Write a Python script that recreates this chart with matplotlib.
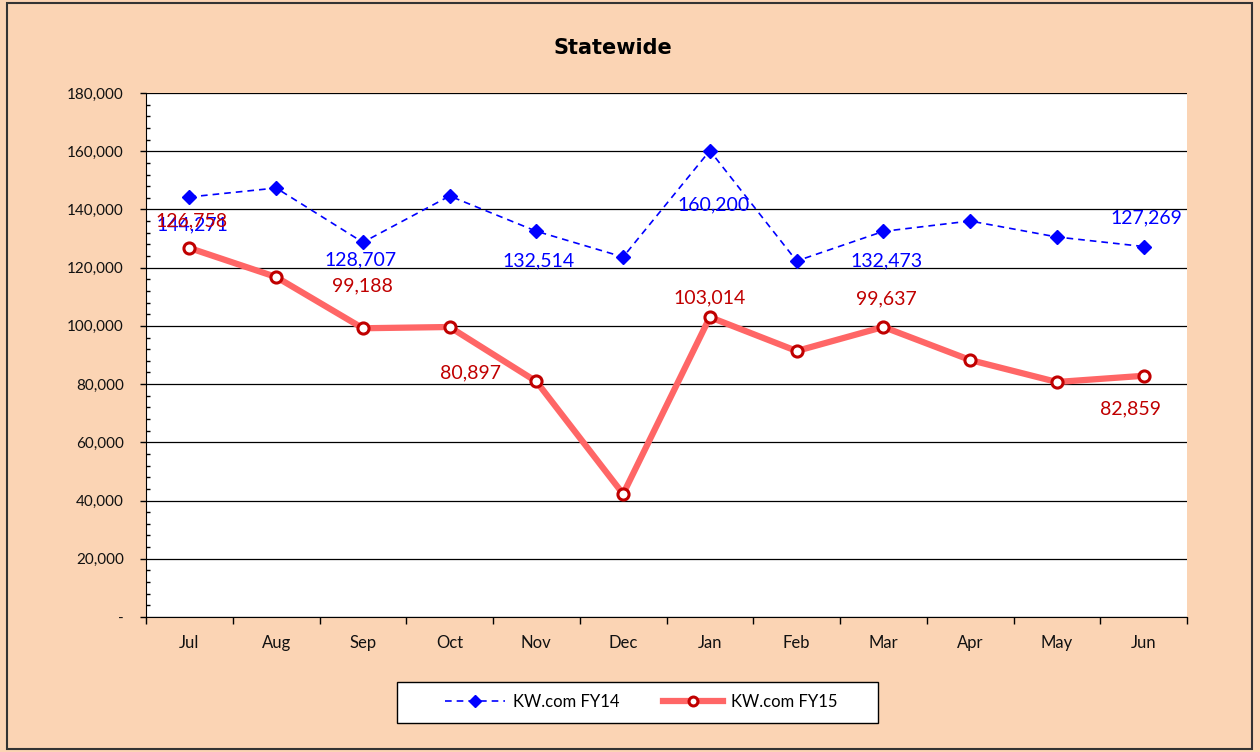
import matplotlib.pyplot as plt
from matplotlib.patches import Rectangle
from matplotlib.ticker import FuncFormatter, MultipleLocator

# Data
months = ["Jul", "Aug", "Sep", "Oct", "Nov", "Dec", "Jan", "Feb", "Mar", "Apr", "May", "Jun"]
fy14 = [144271, 147366, 128707, 144617, 132514, 123664, 160200, 122290, 132473, 136030, 130534, 127269]
fy15 = [126758, 116794, 99188, 99618, 80897, 42252, 103014, 91374, 99637, 88282, 80725, 82859]

# Which points get a value label, and label offset in pixels (dx, dy; dy positive = down)
fy14_labels = {0: (3, 28), 2: (-2, 18), 4: (2, 30), 6: (4, 54), 8: (3, 30), 11: (3, -29)}
fy15_labels = {0: (2, -27), 2: (0, -42), 4: (-66, -9), 6: (0, -19), 8: (3, -28), 11: (-13, 33)}

peach = "#FBD4B4"
label_font = "Lato"

fig = plt.figure(figsize=(12.6, 7.52), dpi=100)
fig.patch.set_facecolor(peach)

# outer chart border
fig.patches.append(Rectangle((7 / 1260, 3 / 752), 1245 / 1260, 746 / 752,
                             transform=fig.transFigure, fill=False,
                             edgecolor="#333333", linewidth=1.5))

ax = fig.add_axes([146 / 1260, 1 - 617 / 752, 1041 / 1260, 524 / 752])
ax.set_facecolor("white")

x = list(range(len(months)))
ax.plot(x, fy14, color="#0000FF", linestyle=(0, (4, 3)), linewidth=1.2,
        marker="D", markersize=7.5, markerfacecolor="#0000FF",
        markeredgecolor="#0000FF", label="KW.com FY14", zorder=3)
ax.plot(x, fy15, color="#FF6666", linewidth=4.5, marker="o", markersize=8,
        markerfacecolor="white", markeredgecolor="#C00000", markeredgewidth=2.2,
        label="KW.com FY15", zorder=4)

for i, (dx, dy) in fy14_labels.items():
    ax.annotate(f"{fy14[i]:,}", (x[i], fy14[i]), xytext=(dx * 0.72, -dy * 0.72),
                textcoords="offset points", ha="center", va="center",
                color="#0000FF", fontsize=14, family=label_font, zorder=5)
for i, (dx, dy) in fy15_labels.items():
    ax.annotate(f"{fy15[i]:,}", (x[i], fy15[i]), xytext=(dx * 0.72, -dy * 0.72),
                textcoords="offset points", ha="center", va="center",
                color="#C00000", fontsize=14, family=label_font, zorder=5)

ax.set_xlim(-0.5, 11.5)
ax.set_ylim(0, 180000)

# y axis
ax.yaxis.set_major_locator(MultipleLocator(20000))
ax.yaxis.set_minor_locator(MultipleLocator(4000))
ax.yaxis.set_major_formatter(FuncFormatter(lambda v, p: "-" if v == 0 else f"{int(v):,}"))
ax.tick_params(axis="y", which="major", direction="out", length=4, width=1,
               labelsize=11, pad=12)
ax.tick_params(axis="y", which="minor", direction="in", length=3, width=1)
ax.grid(axis="y", which="major", color="black", linewidth=0.9, zorder=0)

# x axis: ticks on category edges, labels in the middle
ax.set_xticks([i - 0.5 for i in range(13)])
ax.set_xticklabels([])
ax.set_xticks(x, minor=True)
ax.set_xticklabels(months, minor=True)
ax.tick_params(axis="x", which="major", direction="out", length=5, width=1)
ax.tick_params(axis="x", which="minor", length=0, labelsize=12, pad=13)

for lab in ax.get_xticklabels(minor=True) + ax.get_yticklabels():
    lab.set_family(label_font)
    lab.set_color("#111111")

ax.spines["top"].set_visible(False)
ax.spines["right"].set_visible(False)
ax.spines["left"].set_color("black")
ax.spines["bottom"].set_color("black")

fig.text(613 / 1260, 1 - 48 / 752, "Statewide", ha="center", va="center",
         fontsize=15, fontweight="bold", family="DejaVu Sans")

# legend with its own box
fig.patches.append(Rectangle((397 / 1260, 1 - 723 / 752), 481 / 1260, 41 / 752,
                             transform=fig.transFigure, facecolor="white",
                             edgecolor="black", linewidth=1, zorder=1))
leg = fig.legend(loc="center", bbox_to_anchor=(641 / 1260, 1 - 702 / 752), ncol=2,
                 frameon=False, prop={"family": label_font, "size": 12},
                 handlelength=3.6, handletextpad=0.5, columnspacing=2.6,
                 markerscale=0.8)
leg.set_zorder(2)

fig.savefig("out.png", dpi=100, facecolor=peach)
